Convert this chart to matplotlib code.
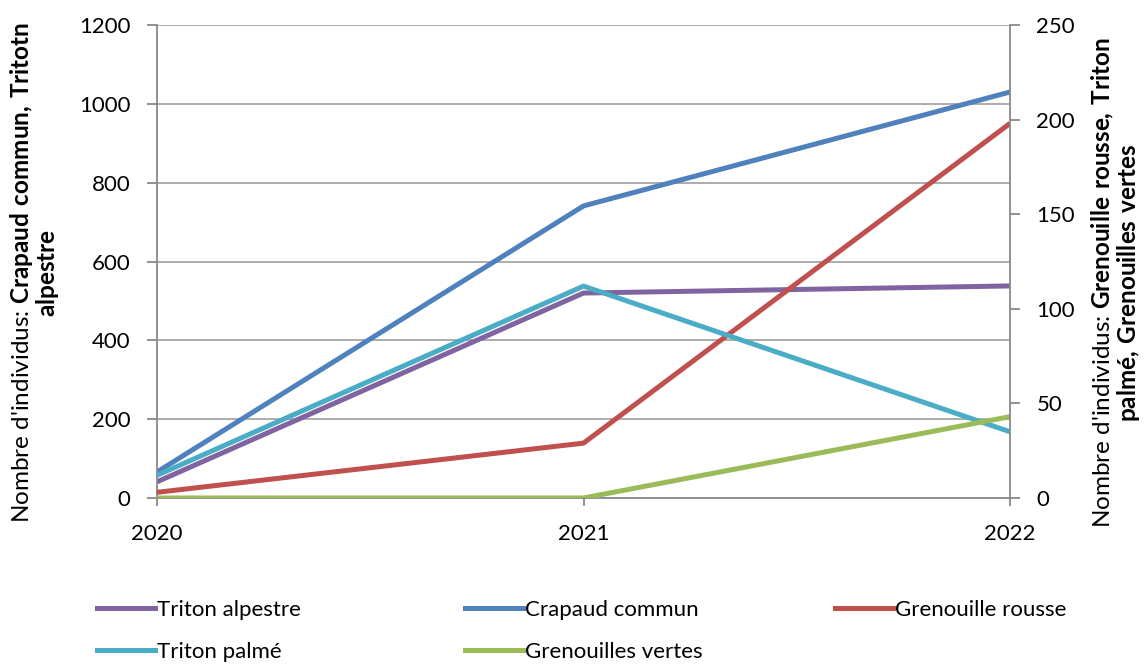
import matplotlib
matplotlib.use("Agg")
import matplotlib.pyplot as plt
from matplotlib.lines import Line2D

plt.rcParams['font.family'] = ['Lato', 'DejaVu Sans']
plt.rcParams['mathtext.fontset'] = 'custom'
plt.rcParams['mathtext.rm'] = 'Lato'
plt.rcParams['mathtext.bf'] = 'Lato:bold'

# Data
years = [2020, 2021, 2022]
triton_alpestre = [41, 520, 538]      # left axis
crapaud_commun = [66, 741, 1030]      # left axis
grenouille_rousse = [3, 29, 198]      # right axis
triton_palme = [12, 112, 35]          # right axis
grenouilles_vertes = [0, 0, 43]       # right axis

col_purple = '#8064A2'
col_blue = '#4F81BD'
col_red = '#C0504D'
col_cyan = '#4BACC6'
col_green = '#9BBB59'
grid_col = '#A6A6A6'
lw = 3.6
fs = 16

fig = plt.figure(figsize=(11.48, 6.64), dpi=100)
ax = fig.add_axes([157 / 1148, 1 - 498 / 664, (1010 - 157) / 1148, (498 - 25) / 664])
ax2 = ax.twinx()

ax.plot(years, triton_alpestre, color=col_purple, lw=lw, solid_capstyle='butt')
ax.plot(years, crapaud_commun, color=col_blue, lw=lw, solid_capstyle='butt')
ax2.plot(years, grenouille_rousse, color=col_red, lw=lw, solid_capstyle='butt')
ax2.plot(years, triton_palme, color=col_cyan, lw=lw, solid_capstyle='butt')
ax2.plot(years, grenouilles_vertes, color=col_green, lw=lw, solid_capstyle='butt')

ax.set_xlim(2020, 2022)
ax.set_ylim(0, 1200)
ax2.set_ylim(0, 250)
ax.set_xticks(years)
ax.set_xticklabels([str(y) for y in years])
ax.set_yticks(range(0, 1201, 200))
ax2.set_yticks(range(0, 251, 50))

ax.yaxis.grid(True, color=grid_col, lw=1.3)
ax.set_axisbelow(True)

for a in (ax, ax2):
    for s in a.spines.values():
        s.set_visible(False)
ax.spines['left'].set_visible(True)
ax.spines['bottom'].set_visible(True)
ax2.spines['right'].set_visible(True)
for s in (ax.spines['left'], ax.spines['bottom'], ax2.spines['right']):
    s.set_color('#898989')
    s.set_linewidth(1.3)

ax.tick_params(axis='y', length=7, width=1.3, color='#898989', pad=12, labelsize=fs)
ax.tick_params(axis='x', length=6, width=1.3, color='#898989', pad=13, labelsize=fs)
ax2.tick_params(axis='y', length=7, width=1.3, color='#898989', pad=12, labelsize=fs)

ax.set_ylabel("Nombre d'individus: $\\bf{Crapaud\\ commun{,}\\ Tritotn}$\n$\\bf{alpestre}$",
              fontsize=17.5, labelpad=13, linespacing=0.95)
ax.yaxis.label.set_y(0.476)
ax2.set_ylabel("Nombre d'individus: $\\bf{Grenouille\\ rousse{,}\\ Triton}$\n$\\bf{palmé{,}\\ Grenouilles\\ vertes}$",
               fontsize=17.5, labelpad=11, linespacing=0.95, rotation=90)
ax2.yaxis.label.set_y(0.455)

# legend, three columns of equal width
def h(c):
    return Line2D([], [], color=c, lw=lw)

cols = [
    ([h(col_purple), h(col_cyan)], ['Triton alpestre', 'Triton palmé'], 97),
    ([h(col_blue), h(col_green)], ['Crapaud commun', 'Grenouilles vertes'], 465),
    ([h(col_red)], ['Grenouille rousse'], 835),
]
for handles, labels, x in cols:
    fig.legend(handles, labels, loc='upper left', bbox_to_anchor=(x / 1148, 1 - 600 / 664),
               frameon=False, fontsize=fs, handlelength=2.6, handletextpad=0.1,
               labelspacing=1.0, borderaxespad=0, borderpad=0)

fig.savefig('out.png', dpi=100)
